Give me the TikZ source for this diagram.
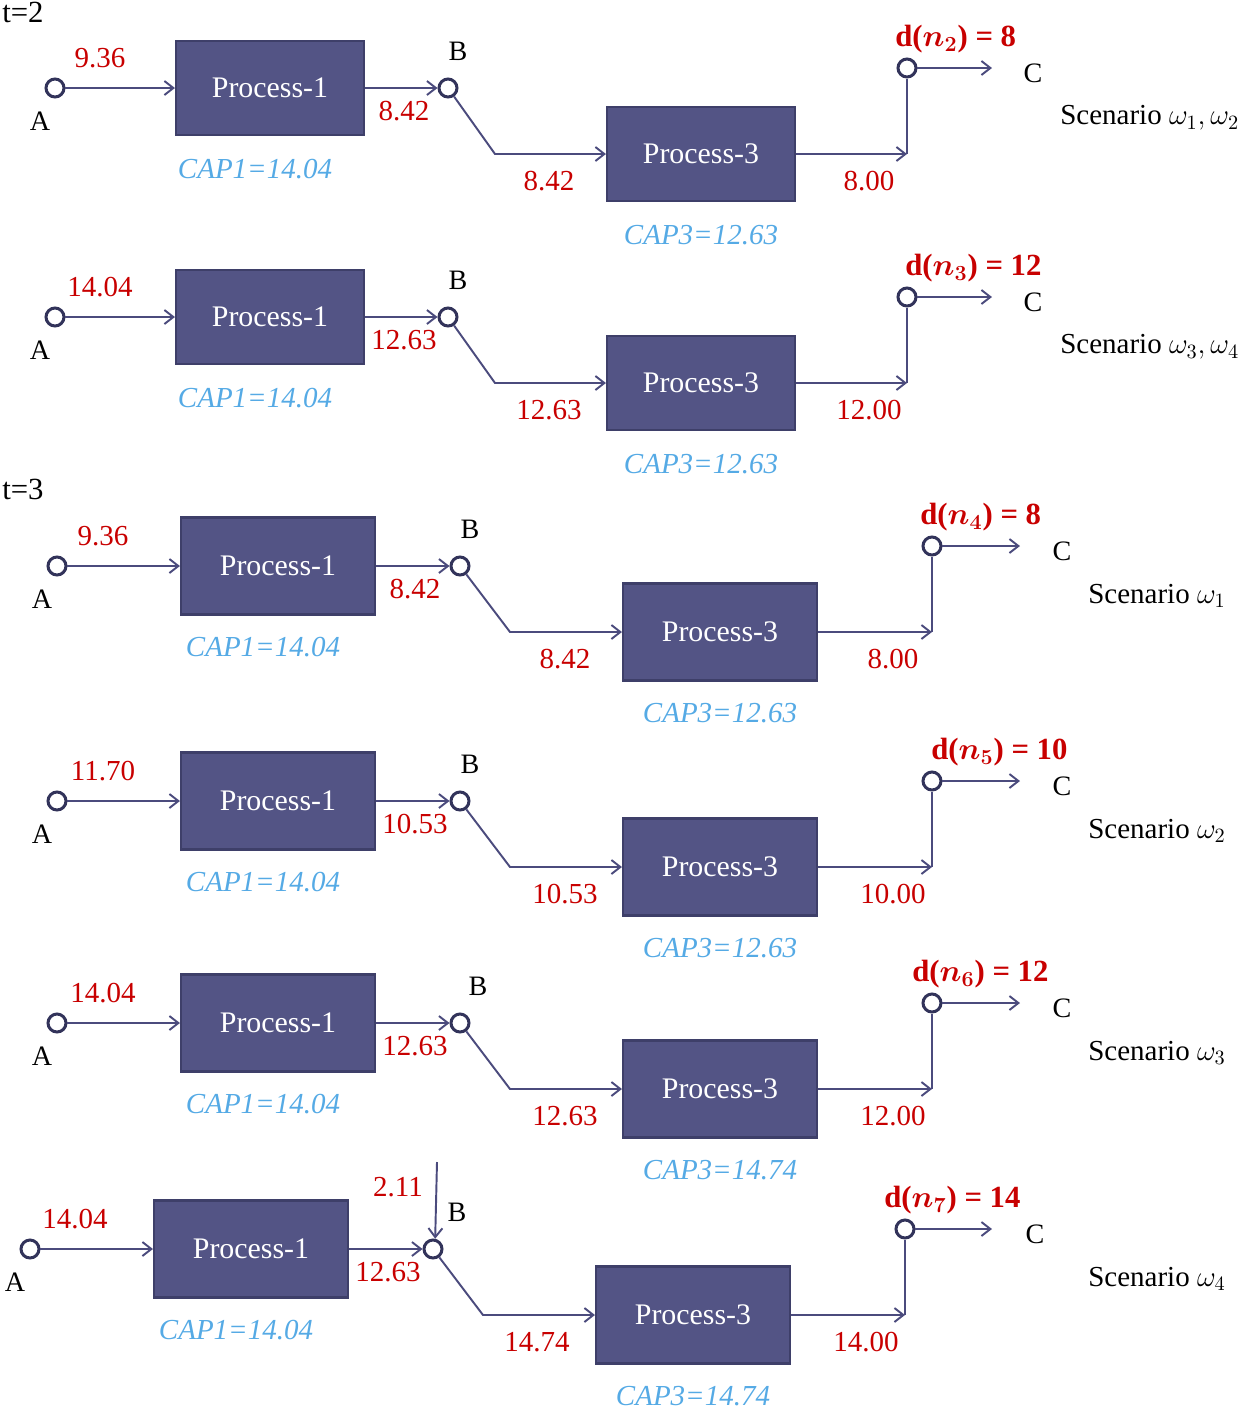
\documentclass[tikz,border=0pt]{standalone}
\usepackage{fix-cm}
\usepackage{fontspec}
\setmainfont{Liberation Serif}
\usetikzlibrary{arrows.meta}
\definecolor{boxfill}{RGB}{83,84,133}
\definecolor{boxline}{RGB}{62,63,105}
\definecolor{flowc}{RGB}{75,75,125}
\definecolor{portc}{RGB}{50,51,90}
\definecolor{redc}{RGB}{200,0,0}
\definecolor{capc}{RGB}{85,170,229}
\newcommand\dn[2]{\textbf{d(\boldmath$n_{#1}$) = #2}}
\tikzset{
  port/.style={circle,draw=portc,line width=1.7pt,fill=white,minimum size=0.36cm,inner sep=0pt},
  proc/.style={draw=boxline,fill=boxfill,line width=1.2pt,text=white,font=\fontsize{17}{19}\selectfont,inner sep=0pt},
  flow/.style={draw=flowc,line width=1.1pt,-{Straight Barb[length=1.8mm,width=2.8mm]}},
  plain/.style={draw=flowc,line width=1.1pt},
  lbl/.style={text=black,font=\fontsize{16}{18}\selectfont,inner sep=1pt},
  num/.style={text=redc,font=\fontsize{16.5}{18}\selectfont,inner sep=1pt},
  capt/.style={text=capc,font=\fontsize{16.5}{18}\selectfont\itshape,inner sep=1pt},
  dem/.style={text=redc,font=\fontsize{17.5}{19}\selectfont,anchor=west,inner sep=0pt},
  scen/.style={text=black,font=\fontsize{16.5}{18}\selectfont,anchor=west,inner sep=0pt},
  tlbl/.style={text=black,font=\fontsize{17.5}{19}\selectfont,anchor=west,inner sep=0pt}
}
\newcommand\flowrow[9]{%
  \node[port] (#1A) at (\LxA,#2) {};
  \node[lbl] (#1Al) at (\LxAl,#2+33) {A};
  \node[num] (#1in) at (\Lxin,#2-30) {#3};
  \node[proc,minimum width=\Lbw,minimum height=\Lbh] (#1P1) at (\LxPa,#2) {Process-1};
  \node[capt] (#1c1) at (\LxPa-15,#2+81) {CAP1=14.04};
  \node[port] (#1B) at (\LxB,#2) {};
  \node[lbl] (#1Bl) at (\LxBl,#2-37) {B};
  \node[num] (#1o1) at (\Lxoa,#2+23) {#4};
  \coordinate (#1bend) at (\Lxbend,#2+66);
  \node[num] (#1bl) at (\Lxbl,#2+93) {#5};
  \node[proc,minimum width=\Lbw,minimum height=\Lbh] (#1P3) at (\LxPb,#2+66) {Process-3};
  \node[capt] (#1c3) at (\LxPb,#2+147) {CAP3=#8};
  \coordinate (#1J) at (\LxJ,#2+66);
  \node[num] (#1o3) at (\Lxob,#2+93) {#6};
  \node[port] (#1C) at (\LxJ,#2-20) {};
  \coordinate (#1Ce) at (\LxCe,#2-20);
  \node[lbl] (#1Cl) at (\LxCl,#2-15) {C};
  \node[dem] (#1d) at (\Lxd,#2-49) {#7};
  \node[scen] (#1s) at (\Lxsc,#2+30) {Scenario #9};
  \draw[flow] (#1A) -- (#1P1);
  \draw[flow] (#1P1) -- (#1B);
  \draw[flow] (#1B) -- (#1bend) -- (#1P3);
  \draw[flow] (#1P3) -- (#1J);
  \draw[plain] (#1J) -- (#1C);
  \draw[flow] (#1C) -- (#1Ce);
}
\newcommand\LayoutOne{\def\LxA{55}\def\LxAl{40}\def\Lxin{100}\def\LxPa{270}\def\Lbw{3.76cm}\def\Lbh{1.88cm}%
  \def\LxB{448}\def\LxBl{458}\def\Lxoa{404}\def\Lxbend{495}\def\Lxbl{549}\def\LxPb{701}\def\LxJ{907}%
  \def\Lxob{869}\def\LxCe{992}\def\LxCl{1033}\def\Lxsc{1060}}
\newcommand\LayoutTwo{\def\LxA{57}\def\LxAl{42}\def\Lxin{103}\def\LxPa{278}\def\Lbw{3.88cm}\def\Lbh{1.94cm}%
  \def\LxB{460}\def\LxBl{470}\def\Lxoa{415}\def\Lxbend{510}\def\Lxbl{565}\def\LxPb{720}\def\LxJ{932}%
  \def\Lxob{893}\def\LxCe{1020}\def\LxCl{1062}\def\Lxsc{1088}}
\newcommand\LayoutThree{\def\LxA{30}\def\LxAl{15}\def\Lxin{75}\def\LxPa{251}\def\Lbw{3.88cm}\def\Lbh{1.94cm}%
  \def\LxB{433}\def\LxBl{457}\def\Lxoa{388}\def\Lxbend{483}\def\Lxbl{537}\def\LxPb{693}\def\LxJ{905}%
  \def\Lxob{866}\def\LxCe{992}\def\LxCl{1035}\def\Lxsc{1088}}
\begin{document}
\begin{tikzpicture}[x=0.02cm,y=-0.02cm]
\useasboundingbox (0,0) rectangle (1251,1418);
\node[tlbl] (t2) at (2,12) {t=2};
\node[tlbl] (t3) at (2,489) {t=3};
\LayoutOne
\def\Lxd{895}
\flowrow{r1}{88}{9.36}{8.42}{8.42}{8.00}{\dn{2}{8}}{12.63}{$\omega_1,\omega_2$}
\def\Lxd{905}
\flowrow{r2}{317}{14.04}{12.63}{12.63}{12.00}{\dn{3}{12}}{12.63}{$\omega_3,\omega_4$}
\LayoutTwo
\def\Lxd{920}
\flowrow{r3}{566}{9.36}{8.42}{8.42}{8.00}{\dn{4}{8}}{12.63}{$\omega_1$}
\def\Lxd{931}
\flowrow{r4}{801}{11.70}{10.53}{10.53}{10.00}{\dn{5}{10}}{12.63}{$\omega_2$}
\def\Lxd{912}\def\LxBl{478}
\flowrow{r5}{1023}{14.04}{12.63}{12.63}{12.00}{\dn{6}{12}}{14.74}{$\omega_3$}
\LayoutThree
\def\Lxd{884}
\flowrow{r6}{1249}{14.04}{12.63}{14.74}{14.00}{\dn{7}{14}}{14.74}{$\omega_4$}
\coordinate (r6top) at (437,1162);
\node[num] (r6x) at (398,1187) {2.11};
\draw[flow] (r6top) -- (r6B.78);
\end{tikzpicture}
\end{document}
